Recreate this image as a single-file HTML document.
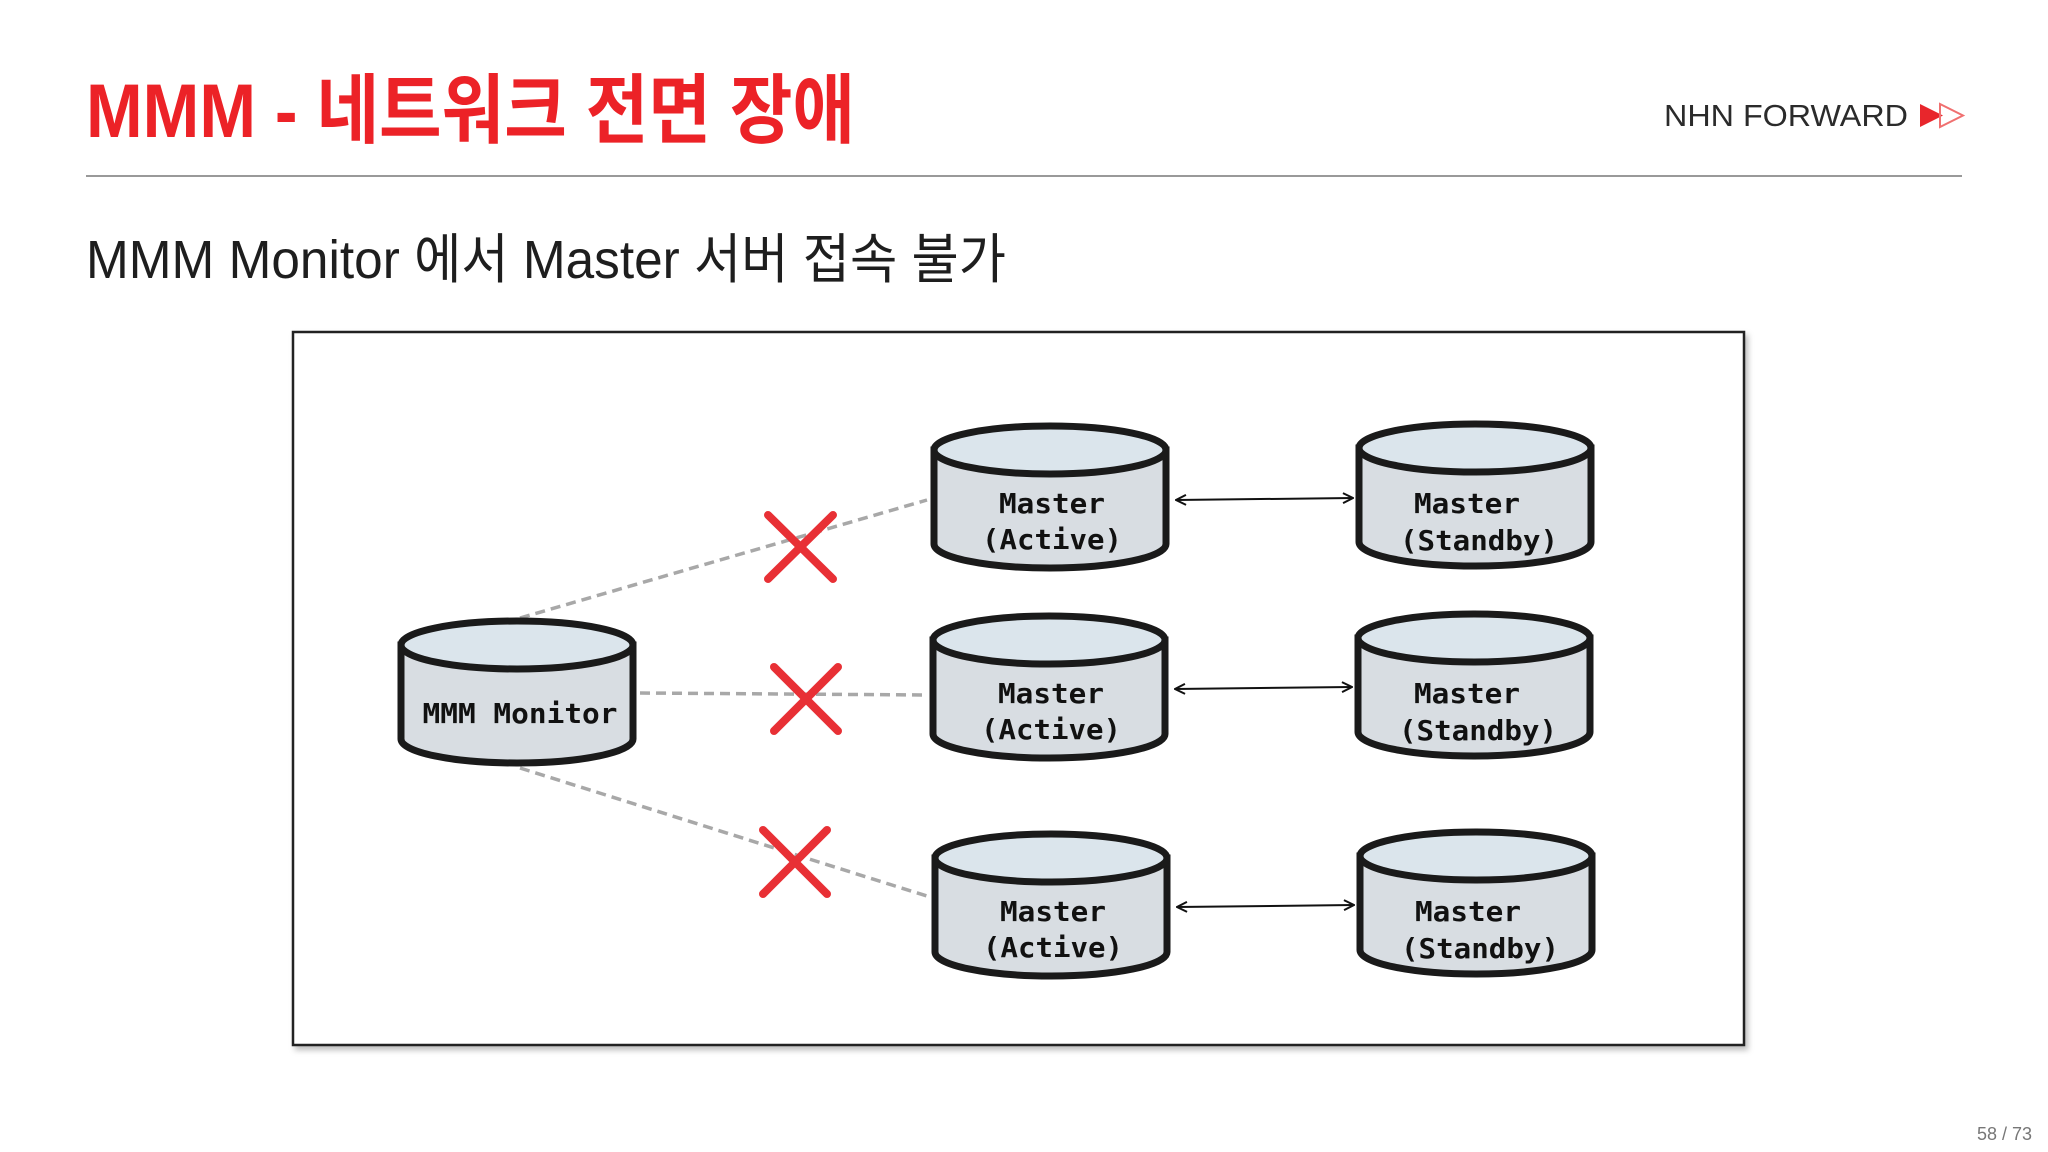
<!DOCTYPE html>
<html><head><meta charset="utf-8"><style>
html,body{margin:0;padding:0;background:#fff;}
svg{display:block;}
</style></head><body>
<svg width="2048" height="1152" viewBox="0 0 2048 1152" xmlns="http://www.w3.org/2000/svg">
<defs>
<filter id="sh" x="-5%" y="-5%" width="110%" height="110%"><feDropShadow dx="3" dy="4" stdDeviation="3" flood-color="#000" flood-opacity="0.25"/></filter>
<marker id="ah" viewBox="0 0 12 12" refX="11" refY="6" markerWidth="12" markerHeight="12" markerUnits="userSpaceOnUse" orient="auto-start-reverse"><path d="M1,1 L11,6 L1,11" fill="none" stroke="#111" stroke-width="2"/></marker>
<g id="cyl">
<path d="M-116,-46 L-116,48 A116,24 0 0 0 116,48 L116,-46 Z" fill="#d8dde2" stroke="#1a1a1a" stroke-width="7"/>
<ellipse cx="0" cy="-46" rx="116" ry="24" fill="#dbe5ec" stroke="#1a1a1a" stroke-width="7"/>
</g>
</defs>
<rect width="2048" height="1152" fill="#fff"/>
<text x="86" y="137" font-family="Liberation Sans, Noto Sans CJK KR, sans-serif" font-weight="bold" font-size="76" fill="#ec2227" textLength="769" lengthAdjust="spacingAndGlyphs">MMM - 네트워크 전면 장애</text>
<text x="1664" y="126" font-family="Liberation Sans, sans-serif" font-size="31" fill="#2b2b2b" textLength="244" lengthAdjust="spacingAndGlyphs">NHN FORWARD</text>
<path d="M1920,104 L1943,115.5 L1920,127 Z" fill="#e8262c"/>
<path d="M1940,104 L1963,115.5 L1940,127 Z" fill="none" stroke="#f07070" stroke-width="2"/>
<line x1="86" y1="176" x2="1962" y2="176" stroke="#999" stroke-width="2"/>
<text x="86" y="278" font-family="Liberation Sans, Noto Sans CJK KR, sans-serif" font-size="54" fill="#1e1e1e" textLength="920" lengthAdjust="spacingAndGlyphs">MMM Monitor 에서 Master 서버 접속 불가</text>
<rect x="293" y="332" width="1451" height="713" fill="#fff" stroke="#222" stroke-width="2.5" filter="url(#sh)"/>
<g stroke="#a8a8a8" stroke-width="3.5" stroke-dasharray="10,6" fill="none">
<line x1="520" y1="618" x2="927" y2="500"/>
<line x1="640" y1="693" x2="927" y2="695"/>
<line x1="520" y1="768" x2="930" y2="897"/>
</g>
<g stroke="#111" stroke-width="2" marker-start="url(#ah)" marker-end="url(#ah)">
<line x1="1176" y1="500" x2="1353" y2="498"/>
<line x1="1175" y1="689" x2="1352" y2="687"/>
<line x1="1177" y1="907" x2="1354" y2="905"/>
</g>
<use href="#cyl" x="517" y="691"/>
<use href="#cyl" x="1050" y="496"/>
<use href="#cyl" x="1475" y="494"/>
<use href="#cyl" x="1049" y="686"/>
<use href="#cyl" x="1474" y="684"/>
<use href="#cyl" x="1051" y="904"/>
<use href="#cyl" x="1476" y="902"/>
<g font-family="DejaVu Sans Mono, Liberation Mono, monospace" font-weight="bold" font-size="28" fill="#111" text-anchor="middle">
<text x="520" y="723" textLength="195" lengthAdjust="spacingAndGlyphs">MMM Monitor</text>
<text x="1052" y="513" textLength="106" lengthAdjust="spacingAndGlyphs">Master</text>
<text x="1052" y="549" textLength="140" lengthAdjust="spacingAndGlyphs">(Active)</text>
<text x="1467" y="513" textLength="106" lengthAdjust="spacingAndGlyphs">Master</text>
<text x="1479" y="550" textLength="158" lengthAdjust="spacingAndGlyphs">(Standby)</text>
<text x="1051" y="703" textLength="106" lengthAdjust="spacingAndGlyphs">Master</text>
<text x="1051" y="739" textLength="140" lengthAdjust="spacingAndGlyphs">(Active)</text>
<text x="1467" y="703" textLength="106" lengthAdjust="spacingAndGlyphs">Master</text>
<text x="1478" y="740" textLength="158" lengthAdjust="spacingAndGlyphs">(Standby)</text>
<text x="1053" y="921" textLength="106" lengthAdjust="spacingAndGlyphs">Master</text>
<text x="1053" y="957" textLength="140" lengthAdjust="spacingAndGlyphs">(Active)</text>
<text x="1468" y="921" textLength="106" lengthAdjust="spacingAndGlyphs">Master</text>
<text x="1480" y="958" textLength="158" lengthAdjust="spacingAndGlyphs">(Standby)</text>
</g>
<g stroke="#e83035" stroke-width="8" stroke-linecap="round">
<line x1="768" y1="515" x2="833" y2="579"/><line x1="833" y1="515" x2="768" y2="579"/>
<line x1="774" y1="667" x2="838" y2="731"/><line x1="838" y1="667" x2="774" y2="731"/>
<line x1="763" y1="830" x2="827" y2="894"/><line x1="827" y1="830" x2="763" y2="894"/>
</g>
<text x="1977" y="1140" font-family="Liberation Sans, sans-serif" font-size="18" fill="#777">58 / 73</text>
</svg>
</body></html>
